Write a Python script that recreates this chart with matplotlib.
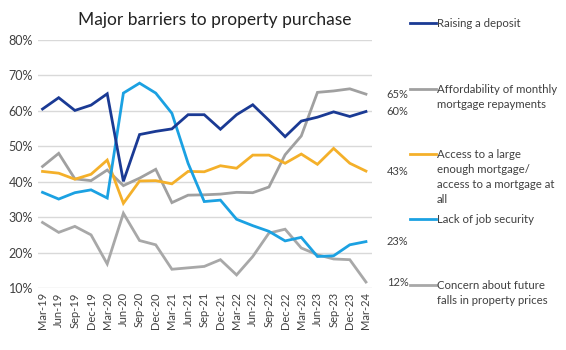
import matplotlib
matplotlib.use("Agg")
import matplotlib.pyplot as plt
from matplotlib.ticker import PercentFormatter

plt.rcParams["font.family"] = ["Lato", "DejaVu Sans"]

quarters = ["Mar-19", "Jun-19", "Sep-19", "Dec-19", "Mar-20", "Jun-20", "Sep-20",
            "Dec-20", "Mar-21", "Jun-21", "Sep-21", "Dec-21", "Mar-22", "Jun-22",
            "Sep-22", "Dec-22", "Mar-23", "Jun-23", "Sep-23", "Dec-23", "Mar-24"]

deposit = [60.5, 63.7, 60.1, 61.6, 64.8, 40.1, 53.3, 54.2, 54.9, 58.9, 58.9,
           54.8, 58.9, 61.7, 57.3, 52.7, 57.1, 58.2, 59.7, 58.4, 59.8]
affordability = [44.3, 48.0, 40.8, 40.3, 43.3, 38.9, 41.0, 43.5, 34.1, 36.2, 36.3,
                 36.5, 37.0, 36.9, 38.5, 47.6, 52.9, 65.2, 65.6, 66.2, 64.7]
access = [42.9, 42.4, 40.7, 42.1, 46.1, 33.9, 40.2, 40.3, 39.4, 42.9, 42.8,
          44.5, 43.8, 47.5, 47.5, 45.2, 47.8, 44.9, 49.4, 45.2, 43.0]
job_security = [37.0, 35.1, 36.9, 37.7, 35.4, 65.0, 67.8, 65.0, 59.3, 45.2, 34.4,
                34.8, 29.4, 27.6, 26.0, 23.3, 24.3, 18.9, 19.1, 22.2, 23.1]
price_falls = [28.5, 25.7, 27.4, 25.0, 16.8, 31.1, 23.4, 22.2, 15.3, 15.7, 16.1,
               18.0, 13.7, 18.9, 25.5, 26.6, 21.3, 19.4, 18.2, 18.0, 11.7]

end_labels = ["60%", "65%", "43%", "23%", "12%"]
series_names = ["Raising a deposit",
                "Affordability of monthly\nmortgage repayments",
                "Access to a large\nenough mortgage/\naccess to a mortgage at\nall",
                "Lack of job security",
                "Concern about future\nfalls in property prices"]
colors = ["#1a3a94", "#a0a0a0", "#f4b02a", "#1ba1e2", "#a8a8a8"]

fig = plt.figure(figsize=(5.66, 3.5), dpi=100)
ax = fig.add_axes([0.068, 0.177, 0.590, 0.709])

x = list(range(len(quarters)))
all_series = [deposit, affordability, access, job_security, price_falls]
draw_order = [4, 1, 2, 3, 0]
for i in draw_order:
    ax.plot(x, all_series[i], color=colors[i], lw=2.0, solid_joinstyle="miter", zorder=3)

ax.set_ylim(10, 80)
ax.set_xlim(-0.25, 20.4)
ax.set_yticks(range(10, 81, 10))
ax.yaxis.set_major_formatter(PercentFormatter(decimals=0))
ax.set_xticks(x)
ax.set_xticklabels(quarters, rotation=90, fontsize=8, color="#404040")
ax.tick_params(axis="y", labelsize=9, colors="#404040", length=0, pad=4)
ax.tick_params(axis="x", length=0, pad=3)
ax.grid(axis="y", color="#d9d9d9", lw=1)
for s in ax.spines.values():
    s.set_visible(False)

# labels on the last point
for vals, lab in zip(all_series, end_labels):
    ax.annotate(lab, (x[-1], vals[-1]), xytext=(15, 0), textcoords="offset points",
                va="center", ha="left", fontsize=8, color="#404040",
                annotation_clip=False)

fig.text(0.38, 0.943, "Major barriers to property purchase", ha="center", va="center",
         fontsize=12.5, color="#222222")

# legend on the right
key_y = [23, 89, 154, 219, 285]
for name, c, yy in zip(series_names, colors, key_y):
    yf = 1 - yy / 350
    fig.add_artist(plt.Line2D([410 / 566, 436 / 566], [yf, yf], color=c, lw=2))
    fig.text(437 / 566, yf + 5 / 350, name, ha="left", va="top", fontsize=8.2,
             color="#404040", linespacing=1.45, transform=fig.transFigure)

fig.savefig("out.png", dpi=100)
